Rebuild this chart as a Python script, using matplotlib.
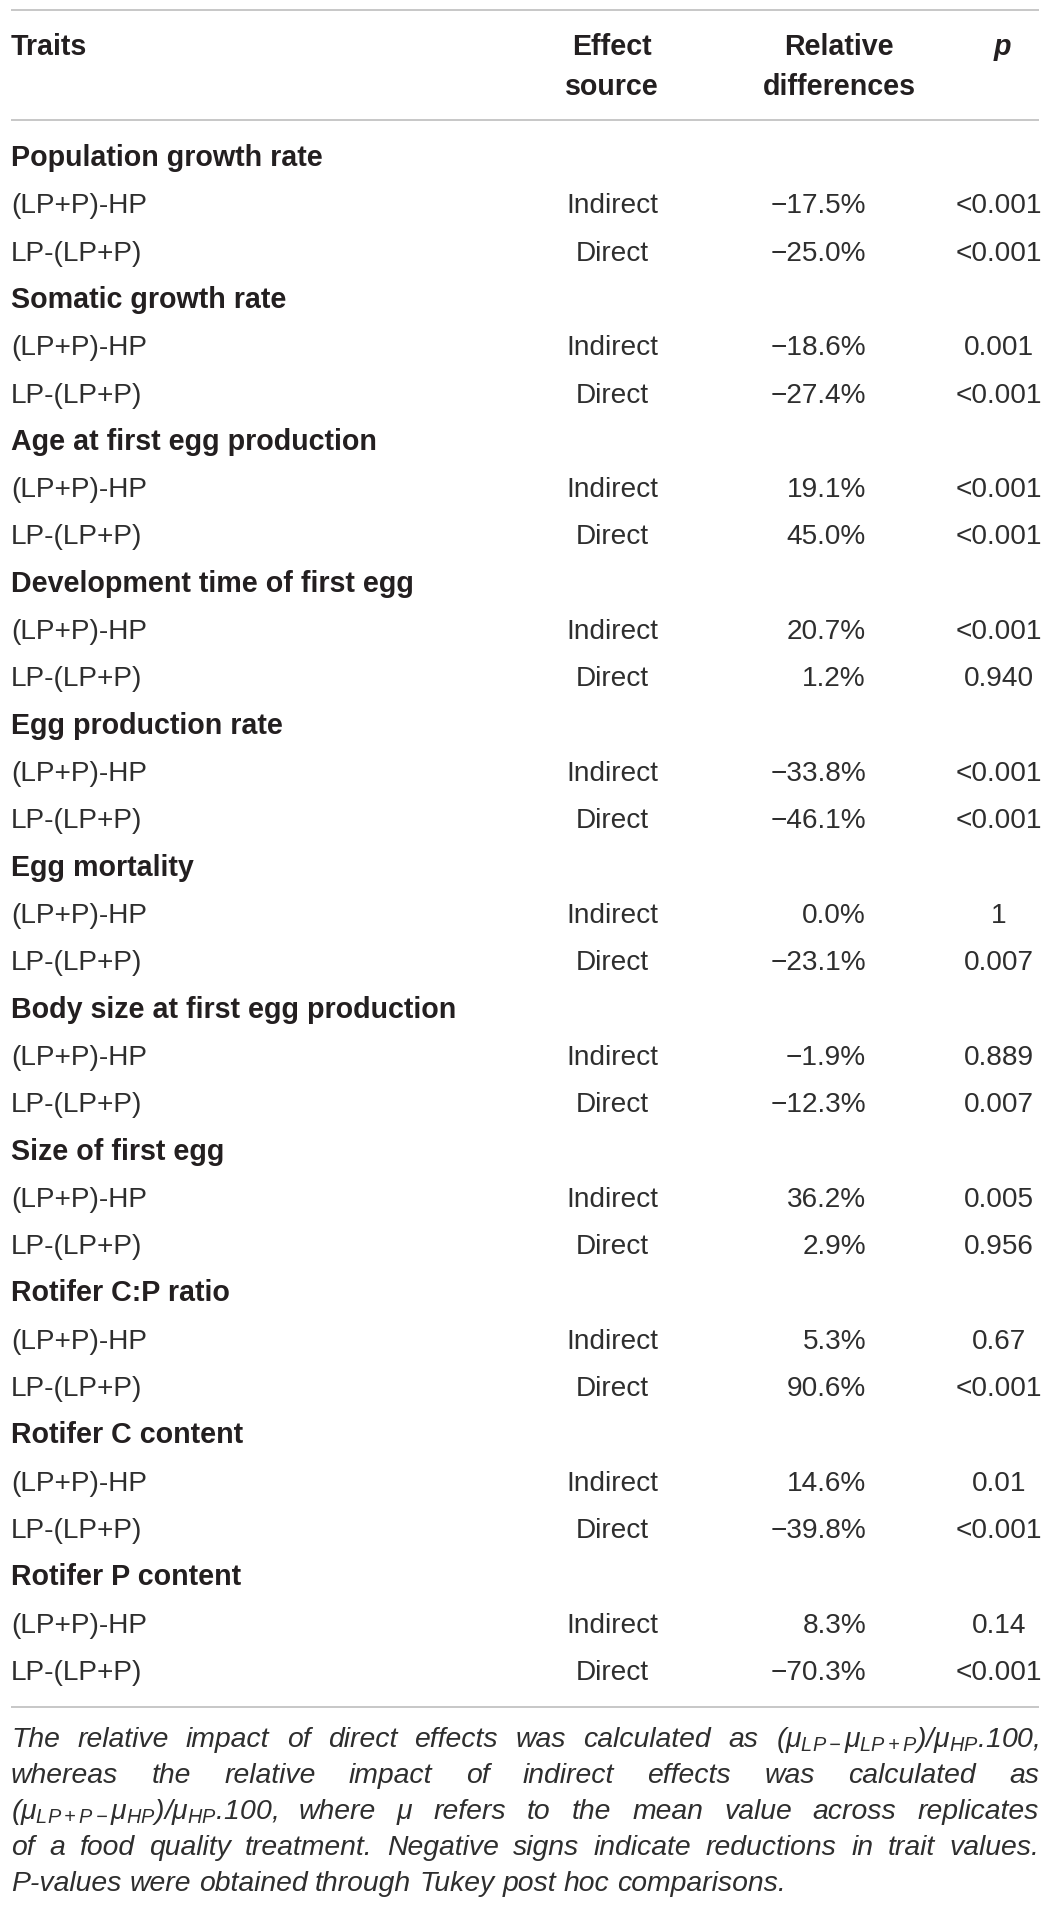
import matplotlib
matplotlib.use("Agg")
import matplotlib.pyplot as plt

plt.rcParams['font.family'] = ['Liberation Sans', 'DejaVu Sans']
plt.rcParams['mathtext.fontset'] = 'custom'
plt.rcParams['mathtext.rm'] = 'Liberation Sans:italic'
plt.rcParams['mathtext.it'] = 'Liberation Sans:italic'
plt.rcParams['mathtext.bf'] = 'Liberation Sans:bold'

# ---------------- data ----------------
header_traits = "Traits"
header_source = ["Effect", "source"]
header_diff = ["Relative", "differences"]
header_p = "p"

traits = ["Population growth rate", "Somatic growth rate", "Age at first egg production",
          "Development time of first egg", "Egg production rate", "Egg mortality",
          "Body size at first egg production", "Size of first egg", "Rotifer C:P ratio",
          "Rotifer C content", "Rotifer P content"]
comparisons = ["(LP+P)-HP", "LP-(LP+P)"]
effect_sources = ["Indirect", "Direct"]
indirect_diff = [-17.5, -18.6, 19.1, 20.7, -33.8, 0.0, -1.9, 36.2, 5.3, 14.6, 8.3]
direct_diff = [-25.0, -27.4, 45.0, 1.2, -46.1, -23.1, -12.3, 2.9, 90.6, -39.8, -70.3]
indirect_p = ["<0.001", "0.001", "<0.001", "<0.001", "<0.001", "1", "0.889", "0.005", "0.67", "0.01", "0.14"]
direct_p = ["<0.001", "<0.001", "<0.001", "0.940", "<0.001", "0.007", "0.007", "0.956", "<0.001", "<0.001", "<0.001"]

footnote_lines = [
    r"The relative impact of direct effects was calculated as ($\mu_{LP-}\mu_{LP+P}$)/$\mu_{HP}$.100,",
    "whereas the relative impact of indirect effects was calculated as",
    r"($\mu_{LP+P-}\mu_{HP}$)/$\mu_{HP}$.100, where μ refers to the mean value across replicates",
    "of a food quality treatment. Negative signs indicate reductions in trait values.",
    "P-values were obtained through Tukey post hoc comparisons.",
]

# ---------------- layout / style ----------------
W, H = 1050, 1910
TXT = "#231f20"
TXT_L = "#2e2e2e"
RULE = "#b8b8b8"
FS = 20.2
FSB = 20.6
FSF = 20.4
LEFT, RIGHT = 11, 1039
X_SRC, X_DIFF_R, X_DIFF_C, X_P = 612, 866, 839, 999
ROW0, STEP = 166, 47.31      # baselines of table rows
HEAD0, HSTEP = 55, 40        # baselines of header lines
FOOT0, FSTEP = 1747, 36      # baselines of footnote lines

fig = plt.figure(figsize=(W / 100, H / 100), dpi=100)
ax = fig.add_axes([0, 0, 1, 1])
ax.set_xlim(0, W)
ax.set_ylim(H, 0)
ax.axis('off')


def rule(y):
    ax.plot([LEFT, RIGHT], [y, y], color=RULE, lw=1.1, solid_capstyle='butt')


def fmt_diff(v):
    return f"{v:.1f}%".replace("-", "\u2212")


rule(10)
rule(120)

# header
ax.text(LEFT, HEAD0, header_traits, fontsize=FSB, fontweight='bold', color=TXT, va='baseline', ha='left')
for k, (a, b) in enumerate(zip(header_source, header_diff)):
    yb = HEAD0 + HSTEP * k
    ax.text(X_SRC, yb, a, fontsize=FSB, fontweight='bold', color=TXT, va='baseline', ha='center')
    ax.text(X_DIFF_C, yb, b, fontsize=FSB, fontweight='bold', color=TXT, va='baseline', ha='center')
ax.text(X_P + 3, HEAD0, header_p, fontsize=FSB, fontweight='bold', style='italic', color=TXT,
        va='baseline', ha='center')

# body
r = 0
for g, trait in enumerate(traits):
    y = ROW0 + STEP * r
    ax.text(LEFT, y, trait, fontsize=FSB, fontweight='bold', color=TXT, va='baseline', ha='left')
    r += 1
    diffs = [indirect_diff[g], direct_diff[g]]
    ps = [indirect_p[g], direct_p[g]]
    for j in range(2):
        y = ROW0 + STEP * r
        ax.text(LEFT, y, comparisons[j], fontsize=FS, color=TXT_L, va='baseline', ha='left')
        ax.text(X_SRC, y, effect_sources[j], fontsize=FS, color=TXT_L, va='baseline', ha='center')
        ax.text(X_DIFF_R, y, fmt_diff(diffs[j]), fontsize=FS, color=TXT_L, va='baseline', ha='right')
        ax.text(X_P, y, ps[j], fontsize=FS, color=TXT_L, va='baseline', ha='center')
        r += 1

rule(1707)

# footnote (justified)
fig.canvas.draw()
renderer = fig.canvas.get_renderer()
t1 = ax.text(0, -100, "x x", fontsize=FSF, style='italic')
t2 = ax.text(0, -100, "xx", fontsize=FSF, style='italic')
space_w = t1.get_window_extent(renderer).width - t2.get_window_extent(renderer).width
t1.remove(); t2.remove()

for i, line in enumerate(footnote_lines):
    y = FOOT0 + FSTEP * i
    words = []
    buf = ""
    in_math = False
    for ch in line:
        if ch == '$':
            in_math = not in_math
        if ch == ' ' and not in_math:
            if buf:
                words.append(buf)
            buf = ""
        else:
            buf += ch
    if buf:
        words.append(buf)
    texts = [ax.text(0, y, w, fontsize=FSF, style='italic', color=TXT_L, va='baseline', ha='left')
             for w in words]
    widths = [t.get_window_extent(renderer).width for t in texts]
    if i < len(footnote_lines) - 1 and len(words) > 1:
        gap = (RIGHT - LEFT - sum(widths)) / (len(words) - 1)
    else:
        gap = space_w
    x = LEFT
    for t, w in zip(texts, widths):
        t.set_x(x)
        x += w + gap

fig.savefig("out.png", dpi=100, facecolor='white')
